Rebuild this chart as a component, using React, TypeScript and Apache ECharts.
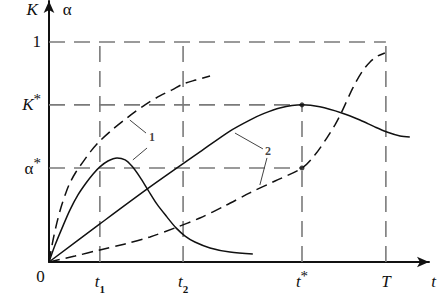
import React, { useEffect, useRef } from 'react';
import * as echarts from 'echarts';

// Key abscissas (time, T = 1) and ordinates (share, 1 = full)
const T1 = 0.151;
const T2 = 0.398;
const T_STAR = 0.751;
const T_END = 1;
const K_STAR = 0.714;
const ALPHA_STAR = 0.427;
const ONE = 1;
const X_MAX = 1.128;
const Y_MAX = 1.186;

const xTickValues = [0, T1, T2, T_STAR, T_END];
const xTickLabels = ['{z|0}', '{i|t}{sub|1}', '{i|t}{sub|2}', '{i|t}{sup|*}', '{i|T}'];
const yTickValues = [ALPHA_STAR, K_STAR, ONE];
const yTickLabels = ['{a|α}{sup|*}', '{i|K}{sup|*}', '{n|1}'];

// Curve 1, solid (rise and fall)
const solid1: number[][] = [
  [0, 0], [0.018, 0.077], [0.039, 0.155], [0.062, 0.236], [0.086, 0.305], [0.11, 0.359],
  [0.131, 0.4], [0.151, 0.432], [0.175, 0.459], [0.202, 0.473], [0.226, 0.464], [0.246, 0.436],
  [0.27, 0.386], [0.294, 0.327], [0.32, 0.264], [0.35, 0.205], [0.377, 0.155], [0.404, 0.118],
  [0.433, 0.091], [0.478, 0.064], [0.537, 0.045], [0.605, 0.036],
];
// Curve 1, dashed (concave growth)
const dashed1: number[][] = [
  [0, 0], [0.012, 0.1], [0.024, 0.182], [0.036, 0.25], [0.05, 0.314], [0.062, 0.359],
  [0.08, 0.409], [0.101, 0.455], [0.125, 0.505], [0.151, 0.55], [0.187, 0.6], [0.22, 0.641],
  [0.255, 0.682], [0.285, 0.714], [0.329, 0.755], [0.365, 0.782], [0.398, 0.809], [0.436, 0.827],
  [0.478, 0.845],
];
// Curve 2, solid (rise to K* at t*, then decline)
const solid2: number[][] = [
  [0, 0], [0.151, 0.173], [0.3, 0.341], [0.448, 0.5], [0.537, 0.595], [0.596, 0.645],
  [0.635, 0.673], [0.685, 0.7], [0.751, 0.714], [0.804, 0.705], [0.869, 0.677], [0.923, 0.645],
  [0.967, 0.614], [1.003, 0.591], [1.042, 0.573], [1.071, 0.568],
];
// Curve 2, dashed (S-shaped growth)
const dashed2: number[][] = [
  [0, 0], [0.077, 0.027], [0.151, 0.055], [0.226, 0.082], [0.3, 0.114], [0.374, 0.155],
  [0.448, 0.2], [0.522, 0.255], [0.596, 0.314], [0.671, 0.368], [0.751, 0.427], [0.789, 0.486],
  [0.825, 0.564], [0.849, 0.623], [0.869, 0.682], [0.902, 0.791], [0.929, 0.864], [0.953, 0.909],
  [0.976, 0.936], [0.997, 0.95],
];

const guideLines: number[][][] = [
  [[0, ONE], [T_END, ONE]],
  [[0, K_STAR], [T_STAR, K_STAR]],
  [[0, ALPHA_STAR], [T_STAR, ALPHA_STAR]],
  [[T1, 0], [T1, ONE]],
  [[T2, 0], [T2, ONE]],
  [[T_STAR, 0], [T_STAR, K_STAR]],
  [[T_END, 0], [T_END, ONE]],
];
const markerPoints: number[][] = [[T_STAR, K_STAR], [T_STAR, ALPHA_STAR]];

const leaderLines: number[][][] = [
  [[0.288, 0.586], [0.24, 0.645]],
  [[0.291, 0.518], [0.249, 0.464]],
  [[0.635, 0.514], [0.552, 0.586]],
  [[0.647, 0.473], [0.626, 0.35]],
];
const curveLabels: { pos: number[]; text: string }[] = [
  { pos: [0.306, 0.568], text: '1' },
  { pos: [0.65, 0.505], text: '2' },
];

const SERIF = "'Liberation Serif', 'Times New Roman', serif";
const INK = '#111';
const GUIDE = '#7a7a7a';

function pick(values: number[], labels: string[], v: number) {
  for (let i = 0; i < values.length; i++) if (Math.abs(values[i] - v) < 1e-6) return labels[i];
  return '';
}

export default function App() {
  const ref = useRef<HTMLDivElement>(null);
  useEffect(() => {
    document.body.style.margin = '0';
    const chart = echarts.init(ref.current!, undefined, { renderer: 'svg' });
    const series: any[] = [];
    guideLines.forEach((seg) =>
      series.push({
        type: 'line', data: seg, showSymbol: false, silent: true, z: 1,
        lineStyle: { color: GUIDE, width: 1.6, type: [16, 9] },
      })
    );
    leaderLines.forEach((seg) =>
      series.push({
        type: 'line', data: seg, showSymbol: false, silent: true, z: 2,
        lineStyle: { color: '#444', width: 1 },
      })
    );
    series.push(
      { type: 'line', data: solid1, showSymbol: false, smooth: 0.3, z: 3, lineStyle: { color: INK, width: 1.5 } },
      { type: 'line', data: dashed1, showSymbol: false, smooth: 0.3, z: 3, lineStyle: { color: INK, width: 1.5, type: [11, 6] } },
      { type: 'line', data: solid2, showSymbol: false, smooth: 0.3, z: 3, lineStyle: { color: INK, width: 1.5 } },
      { type: 'line', data: dashed2, showSymbol: false, smooth: 0.3, z: 3, lineStyle: { color: INK, width: 1.5, type: [11, 6] } },
      { type: 'scatter', data: markerPoints, symbolSize: 5, z: 4, itemStyle: { color: INK } },
      {
        type: 'scatter', z: 4, symbolSize: 0,
        data: curveLabels.map((c) => ({ value: c.pos, name: c.text })),
        label: {
          show: true, position: 'inside', formatter: (p: any) => p.name,
          fontFamily: SERIF, fontWeight: 'bold', fontSize: 12, color: INK,
        },
      }
    );
    const richBase = {
      i: { fontFamily: SERIF, fontStyle: 'italic', fontSize: 17, lineHeight: 26, color: INK },
      n: { fontFamily: SERIF, fontSize: 17, lineHeight: 26, color: INK },
      a: { fontFamily: SERIF, fontSize: 17, lineHeight: 26, color: INK },
      z: { fontFamily: SERIF, fontSize: 17, lineHeight: 16, verticalAlign: 'top', color: INK, padding: [0, 17, 0, 0] },
      sub: { fontFamily: SERIF, fontSize: 11, fontWeight: 'bold', lineHeight: 20, verticalAlign: 'bottom', color: INK },
      sup: { fontFamily: SERIF, fontSize: 15, lineHeight: 12, verticalAlign: 'top', color: INK },
    };
    chart.setOption({
      animation: false,
      backgroundColor: '#fff',
      grid: { left: 49, right: 10, top: 1, bottom: 33, containLabel: false, outerBoundsMode: 'none' },
      xAxis: {
        type: 'value', min: 0, max: X_MAX,
        axisLine: { lineStyle: { color: INK, width: 2 }, symbol: ['none', 'arrow'], symbolSize: [8, 12] },
        axisTick: { show: false },
        splitLine: { show: false },
        axisLabel: {
          customValues: xTickValues, margin: 6,
          formatter: (v: number) => pick(xTickValues, xTickLabels, v),
          rich: richBase,
        },
        name: '{i|t}', nameLocation: 'end', nameGap: 4.5,
        nameTextStyle: { align: 'center', verticalAlign: 'top', padding: [6.5, 0, 0, 0], rich: richBase },
      },
      yAxis: {
        type: 'value', min: 0, max: Y_MAX,
        axisLine: { lineStyle: { color: INK, width: 2 }, symbol: ['none', 'arrow'], symbolSize: [8, 12] },
        axisTick: { show: false },
        splitLine: { show: false },
        axisLabel: {
          customValues: yTickValues, margin: 8,
          formatter: (v: number) => pick(yTickValues, yTickLabels, v),
          rich: richBase,
        },
        name: '{k|K}{g|}{al|α}', nameLocation: 'end', nameGap: -17,
        nameTextStyle: {
          rich: {
            k: { fontFamily: SERIF, fontStyle: 'italic', fontSize: 17, lineHeight: 17, color: INK },
            g: { width: 25, lineHeight: 17 },
            al: { fontFamily: SERIF, fontSize: 17, lineHeight: 17, color: INK },
          },
        },
      },
      series,
    });
    return () => chart.dispose();
  }, []);
  return <div ref={ref} style={{ width: 439, height: 295 }} />;
}
